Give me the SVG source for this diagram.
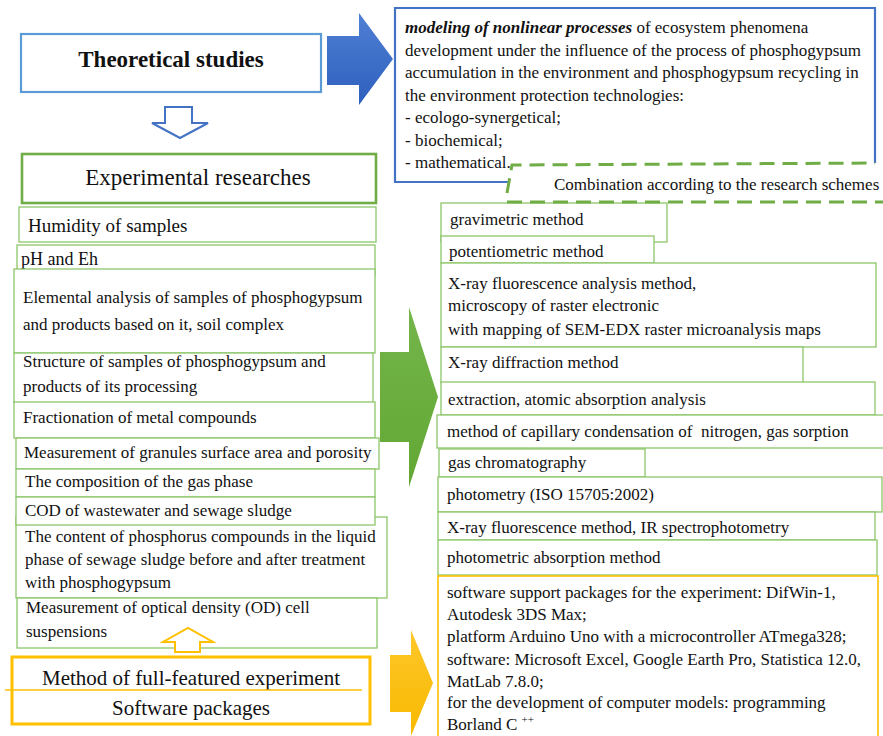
<svg xmlns="http://www.w3.org/2000/svg" width="883" height="736" viewBox="0 0 883 736" font-family="'Liberation Serif', 'DejaVu Serif', serif">
  <defs>
    <style>
      text { fill: #111; }
      .t17 { font-size: 17px; }
      .box { fill: #fff; stroke: #8cc66a; stroke-width: 1.3; }
      .ybox { fill: #fff; stroke: #ffc000; stroke-width: 1.6; }
      .dash { fill: none; stroke: #70ad47; stroke-width: 3; stroke-dasharray: 15 8; }
    </style>
    <linearGradient id="gBlue" x1="0" y1="0" x2="0" y2="1">
      <stop offset="0" stop-color="#5080d4"/>
      <stop offset="1" stop-color="#2d5fbd"/>
    </linearGradient>
    <linearGradient id="gGreen" x1="0" y1="0" x2="0" y2="1">
      <stop offset="0" stop-color="#74b54a"/>
      <stop offset="1" stop-color="#62a834"/>
    </linearGradient>
    <linearGradient id="gYellow" x1="0" y1="0" x2="0" y2="1">
      <stop offset="0" stop-color="#ffc72a"/>
      <stop offset="1" stop-color="#f7b900"/>
    </linearGradient>
  </defs>

  <rect width="883" height="736" fill="#fff"/>

  <!-- theoretical branch -->
  <g id="theoretical">
    <rect x="21" y="34" width="300" height="58" fill="#fff" stroke="#5b9bd5" stroke-width="2.2"/>
    <text x="171" y="67" text-anchor="middle" font-size="23" font-weight="bold">Theoretical studies</text>
  </g>

  <g id="modeling">
    <path d="M510,182 L395,182 L395,8 L875,8 L875,163" fill="#fff" stroke="#4472c4" stroke-width="2.2"/>
    <text class="t17" x="405">
      <tspan x="405" y="33"><tspan font-weight="bold" font-style="italic">modeling of nonlinear processes</tspan> of ecosystem phenomena</tspan>
      <tspan x="405" y="55.5">development under the influence of the process of phosphogypsum</tspan>
      <tspan x="405" y="78">accumulation in the environment and phosphogypsum recycling in</tspan>
      <tspan x="405" y="100.5">the environment protection technologies:</tspan>
      <tspan x="405" y="123">- ecologo-synergetical;</tspan>
      <tspan x="405" y="145.5">- biochemical;</tspan>
      <tspan x="405" y="168">- mathematical.</tspan>
    </text>
  </g>

  <g id="combination">
    <path class="dash" d="M507,193 L512,165 L875,163"/>
    <text class="t17" x="554" y="190">Combination according to the research schemes</text>
  </g>

  <!-- experimental branch -->
  <g id="experimental">
    <rect x="22" y="154" width="354" height="49" fill="#fff" stroke="#70ad47" stroke-width="2.6"/>
    <text x="198" y="185" text-anchor="middle" font-size="23">Experimental researches</text>
  </g>

  <g id="humidity">
    <rect class="box" x="19" y="207" width="357" height="35"/>
    <text x="28" y="232" font-size="19">Humidity of samples</text>
  </g>
  <g id="ph-eh">
    <rect class="box" x="17" y="245" width="358" height="30"/>
    <text x="21" y="265" font-size="18">pH and Eh</text>
  </g>
  <g id="elemental">
    <rect class="box" x="14" y="269" width="361" height="84"/>
    <text class="t17"><tspan x="23" y="303">Elemental analysis of samples of phosphogypsum</tspan><tspan x="23" y="330">and products based on it, soil complex</tspan></text>
  </g>
  <g id="structure">
    <rect class="box" x="14" y="353" width="359" height="50"/>
    <text class="t17"><tspan x="23" y="367">Structure of samples of phosphogypsum and</tspan><tspan x="23" y="392">products of its processing</tspan></text>
  </g>
  <g id="fractionation">
    <rect class="box" x="14" y="402" width="361" height="36"/>
    <text class="t17" x="23" y="423">Fractionation of metal compounds</text>
  </g>
  <g id="granules">
    <rect class="box" x="16" y="438" width="363" height="31"/>
    <text class="t17" x="24" y="458">Measurement of granules surface area and porosity</text>
  </g>
  <g id="gas-phase">
    <rect class="box" x="16" y="469" width="359" height="28"/>
    <text class="t17" x="25" y="487">The composition of the gas phase</text>
  </g>
  <g id="phosphorus">
    <rect class="box" x="16" y="517" width="371" height="81"/>
    <text class="t17"><tspan x="25" y="542">The content of phosphorus compounds in the liquid</tspan><tspan x="25" y="565">phase of sewage sludge before and after treatment</tspan><tspan x="25" y="588">with phosphogypsum</tspan></text>
  </g>
  <g id="cod">
    <rect class="box" x="16" y="497" width="359" height="28"/>
    <text class="t17" x="25" y="516">COD of wastewater and sewage sludge</text>
  </g>
  <g id="optical">
    <rect class="box" x="17" y="598" width="360" height="50"/>
    <text class="t17"><tspan x="26" y="613">Measurement of optical density (OD) cell</tspan><tspan x="26" y="637">suspensions</tspan></text>
  </g>

  <g id="full-featured">
    <rect x="12" y="657" width="358" height="67" fill="#fff" stroke="#ffc000" stroke-width="3"/>
    <text x="191" y="685" text-anchor="middle" font-size="21">Method of full-featured experiment</text>
    <line x1="5" y1="690" x2="362" y2="690" stroke="#ffc000" stroke-width="1.6"/>
    <text x="191" y="715" text-anchor="middle" font-size="21">Software packages</text>
  </g>

  <!-- method column -->
  <g id="gravimetric">
    <rect class="box" x="441" y="203" width="226" height="39"/>
    <text class="t17" x="450" y="225">gravimetric method</text>
  </g>
  <g id="potentiometric">
    <rect class="box" x="441" y="236" width="213" height="27"/>
    <text class="t17" x="449" y="257">potentiometric method</text>
  </g>
  <g id="xrf-sem">
    <rect class="box" x="441" y="263" width="435" height="84"/>
    <text class="t17"><tspan x="448" y="289">X-ray fluorescence analysis method,</tspan><tspan x="448" y="311">microscopy of raster electronic</tspan><tspan x="448" y="335">with mapping of SEM-EDX raster microanalysis maps</tspan></text>
  </g>
  <g id="xrd">
    <rect class="box" x="441" y="347" width="362" height="36"/>
    <text class="t17" x="448" y="368">X-ray diffraction method</text>
  </g>
  <g id="extraction">
    <rect class="box" x="441" y="382" width="434" height="33"/>
    <text class="t17" x="448" y="405">extraction, atomic absorption analysis</text>
  </g>
  <g id="capillary">
    <rect class="box" x="437" y="415" width="450" height="33"/>
    <text class="t17" x="447" y="437" xml:space="preserve">method of capillary condensation of  nitrogen, gas sorption</text>
  </g>
  <g id="chromatography">
    <rect class="box" x="439" y="449" width="206" height="28"/>
    <text class="t17" x="448" y="468">gas chromatography</text>
  </g>
  <g id="photometry">
    <rect class="box" x="438" y="477" width="444" height="35"/>
    <text class="t17" x="447" y="500">photometry (ISO 15705:2002)</text>
  </g>
  <g id="xrf-ir">
    <rect class="box" x="438" y="512" width="437" height="28"/>
    <text class="t17" x="447" y="533">X-ray fluorescence method, IR spectrophotometry</text>
  </g>
  <g id="photometric-absorption">
    <rect class="box" x="438" y="540" width="439" height="35"/>
    <text class="t17" x="447" y="563">photometric absorption method</text>
  </g>
  <g id="software">
    <rect class="ybox" x="438" y="576" width="440" height="170"/>
    <text class="t17">
      <tspan x="447" y="598">software support packages for the experiment: DifWin-1,</tspan>
      <tspan x="447" y="620">Autodesk 3DS Max;</tspan>
      <tspan x="447" y="642">platform Arduino Uno with a microcontroller ATmega328;</tspan>
      <tspan x="447" y="665">software: Microsoft Excel, Google Earth Pro, Statistica 12.0,</tspan>
      <tspan x="447" y="687">MatLab 7.8.0;</tspan>
      <tspan x="447" y="708">for the development of computer models: programming</tspan>
      <tspan x="447" y="730">Borland C <tspan font-size="11" dy="-7">++</tspan></tspan>
    </text>
  </g>

  <!-- grouping line above the method column -->
  <g id="combination-bottom">
    <path class="dash" d="M507,202 L883,202"/>
  </g>

  <!-- connectors: block arrows between the stages -->
  <g id="connectors">
    <path d="M327,36 L359,36 L359,13 L393,59 L359,105 L359,85 L327,85 Z" fill="url(#gBlue)"/>
    <path d="M165,107 L192,107 L192,123 L208,123 L180,138 L152,123 L165,123 Z" fill="#fff" stroke="#4472c4" stroke-width="2"/>
    <path d="M380,352 L409,352 L409,307 L438,397 L409,487 L409,442 L380,442 Z" fill="url(#gGreen)"/>
    <path d="M390,655 L411,655 L411,630 L433,683 L411,736 L411,712 L390,712 Z" fill="url(#gYellow)"/>
    <path d="M175,652 L200,652 L200,642 L213,642 L188,628 L163,642 L175,642 Z" fill="#fff" stroke="#ffc000" stroke-width="2"/>
  </g>
</svg>
